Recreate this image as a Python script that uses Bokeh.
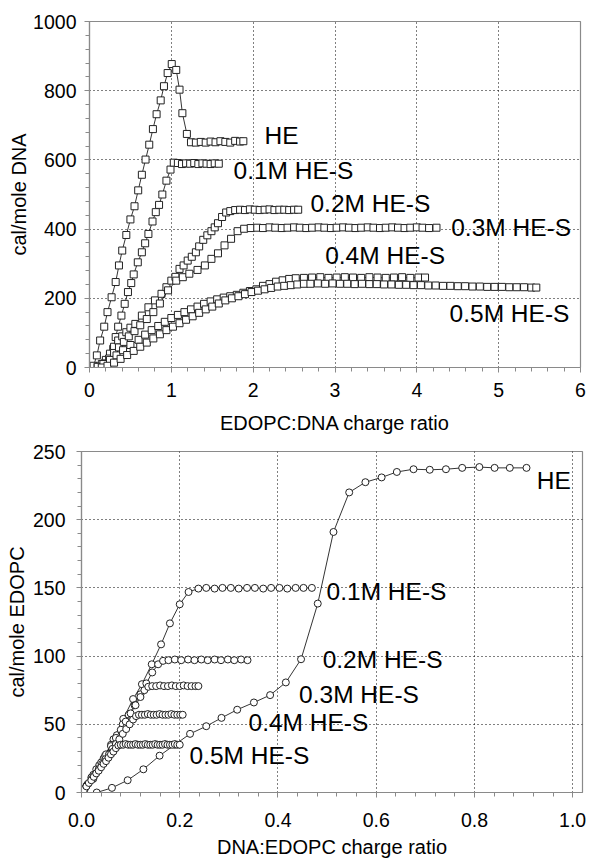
from bokeh.plotting import figure
from bokeh.models import Range1d, Label, SingleIntervalTicker, PrintfTickFormatter, Spacer
from bokeh.layouts import column, row
from bokeh.embed import file_html
from bokeh.resources import INLINE

FONT = "Liberation Sans"

# ---------------- top panel data: cal/mole DNA vs EDOPC:DNA charge ratio ----------------
top_he_x = [0.05,0.09,0.13,0.18,0.22,0.27,0.32,0.36,0.40,0.45,0.50,0.55,0.595,0.64,0.685,0.73,0.775,0.82,0.87,0.91,0.955,1.005,1.06,1.10,1.135,1.19,1.24,1.30,1.36,1.42,1.48,1.54,1.60,1.66,1.72,1.78,1.84,1.88]
top_he_y = [5,35,78,118,160,203,247,295,338,383,428,466,512,557,601,644,689,732,772,813,851,877,860,803,735,675,651,650,652,650,653,651,654,652,650,655,653,654]

top_01_x = [0.15,0.20,0.25,0.29,0.32,0.35,0.39,0.43,0.47,0.51,0.54,0.59,0.64,0.68,0.72,0.77,0.81,0.85,0.89,0.94,0.99,1.03,1.08,1.13,1.18,1.23,1.28,1.33,1.38,1.43,1.48,1.53,1.58]
top_01_y = [3,15,30,54,88,118,150,184,218,244,269,304,333,359,386,422,449,470,500,540,572,592,591,588,590,589,591,588,590,589,588,590,589]

top_02_x = [0.10,0.15,0.20,0.25,0.30,0.35,0.40,0.45,0.50,0.56,0.64,0.72,0.80,0.88,0.94,1.00,1.05,1.10,1.15,1.20,1.25,1.30,1.34,1.39,1.44,1.49,1.53,1.57,1.62,1.67,1.72,1.78,1.84,1.90,1.96,2.02,2.08,2.14,2.20,2.26,2.32,2.38,2.44,2.50,2.55]
top_02_y = [2,10,22,40,60,78,90,102,115,126,150,174,194,213,232,251,262,285,295,309,320,333,350,369,382,394,405,417,435,448,452,455,456,455,457,456,455,456,457,455,456,456,455,456,456]

top_03_x = [0.12,0.18,0.24,0.30,0.36,0.42,0.48,0.55,0.62,0.70,0.78,0.86,0.96,1.06,1.14,1.22,1.32,1.41,1.49,1.57,1.65,1.73,1.81,1.89,1.97,
            2.05,2.12,2.20,2.27,2.35,2.42,2.50,2.57,2.65,2.72,2.80,2.87,2.95,3.02,3.10,3.17,3.25,3.32,3.40,3.47,3.55,3.62,3.70,3.77,3.85,3.92,4.00,4.07,4.15,4.24]
top_03_y = [2,12,26,42,58,74,90,105,122,140,160,185,223,251,261,271,282,295,314,330,353,372,394,401,403,
            404,403,405,404,403,404,405,404,403,404,405,404,403,404,405,404,403,404,405,404,403,404,405,404,403,404,405,404,403,404]

top_04_x = [0.10,0.17,0.25,0.33,0.41,0.50,0.60,0.68,0.76,0.84,0.92,1.00,1.08,1.16,1.24,1.32,1.40,1.48,1.56,1.64,1.72,1.80,1.88,1.96,2.04,2.12,2.20,2.28,2.36,2.44,2.52,2.62,2.72,2.82,2.92,3.02,3.12,3.22,3.32,3.42,3.52,3.62,3.72,3.82,3.92,4.02,4.10]
top_04_y = [2,10,22,35,50,65,80,95,108,120,132,143,152,160,168,176,184,191,197,202,206,210,216,221,226,236,241,248,252,256,258,259,260,261,259,260,261,260,259,261,260,259,260,261,259,260,260]

top_05_x = [0.15,0.22,0.30,0.38,0.46,0.54,0.62,0.70,0.78,0.86,0.94,1.02,1.10,1.18,1.26,1.34,1.42,1.50,1.58,1.66,1.74,1.82,1.90,1.98,2.06,2.14,2.22,2.30,2.38,2.46,2.54,2.62,2.70,
            2.79,2.88,2.97,3.06,3.15,3.24,3.33,3.42,3.51,3.60,3.69,3.78,3.87,3.96,4.05,4.14,4.23,4.32,4.41,4.50,4.59,4.68,4.77,4.86,4.95,5.04,5.13,5.22,5.31,5.40,5.46]
top_05_y = [0,5,14,25,36,48,60,72,84,96,108,118,128,138,148,158,168,176,185,194,200,206,212,218,222,226,230,234,236,238,240,242,242,
            243,242,243,242,242,241,242,241,241,240,240,239,239,238,238,237,237,236,236,235,235,234,234,233,233,233,232,232,232,231,231]

top_labels = ["HE", "0.1M HE-S", "0.2M HE-S", "0.3M HE-S", "0.4M HE-S", "0.5M HE-S"]
top_label_x = [2.14, 1.76, 2.70, 4.42, 2.88, 4.40]
top_label_y = [670, 569, 474, 405, 324, 156]

# ---------------- bottom panel data: cal/mole EDOPC vs DNA:EDOPC charge ratio ----------------
bot_he_x = [0.031,0.062,0.094,0.126,0.159,0.19,0.221,0.254,0.285,0.317,0.351,0.384,0.416,0.447,0.481,0.513,0.545,0.578,0.611,0.642,0.676,0.709,0.742,0.775,0.81,0.841,0.872,0.906]
bot_he_y = [0,3.4,9,17,27,35,43,48.6,54.7,60.7,66,71.4,80.7,97.7,138.5,191,220,227.5,231,235,237,236.6,237,238,238.6,238,238,238]

bot_01_x = [0.005,0.024,0.045,0.065,0.085,0.105,0.123,0.143,0.162,0.180,0.200,0.218,0.238,0.254,0.271,0.287,0.304,0.320,0.337,0.353,0.370,0.386,0.403,0.419,0.436,0.452,0.469]
bot_01_y = [0.5,10,25,39,54,68.5,79.4,94,108.6,124,138,147,149.5,150,149.5,150,150,149.5,150,150,149.5,150,150,149.5,150,150,150]

bot_02_x = [0.0,0.012,0.024,0.036,0.048,0.06,0.072,0.084,0.096,0.108,0.12,0.132,0.144,0.156,0.166,0.177,0.19,0.203,0.217,0.23,0.244,0.257,0.271,0.284,0.298,0.311,0.325,0.338]
bot_02_y = [0,6,13,20,27,35,42,50,57,64,72,80,88,94,96.5,97,97.5,97,97.5,97,97.5,97,97.5,97,97.5,97,97.5,97]

bot_03_x = [0.0,0.01,0.02,0.03,0.04,0.05,0.06,0.07,0.08,0.09,0.10,0.11,0.12,0.128,0.136,0.144,0.152,0.16,0.168,0.176,0.184,0.192,0.2,0.208,0.216,0.224,0.232,0.238]
bot_03_y = [0,5,11,17,22,28,34,40,46,52,58,64,70,75,77.5,78,78,78.5,78,78,78.5,78,78,78.5,78,78,78,78]

bot_04_x = [0.0,0.007,0.014,0.021,0.028,0.035,0.042,0.049,0.056,0.063,0.07,0.077,0.084,0.091,0.098,0.105,
            0.111,0.117,0.123,0.129,0.135,0.141,0.147,0.153,0.159,0.165,0.171,0.177,0.183,0.189,0.195,0.201,0.206]
bot_04_y = [0,3,6.5,10,13.5,17,21,24.5,28,32,35.5,39,43,46.5,50,53.5,
            56,57,57,57,57.5,57,57,57,57.5,57,57,57,57.5,57,57,57,57]

bot_05_x = [0.0,0.005,0.01,0.015,0.02,0.025,0.03,0.035,0.04,0.045,0.05,0.055,0.06,0.065,0.07,
            0.075,0.08,0.085,0.09,0.095,0.10,0.105,0.11,0.115,0.12,0.125,0.13,0.135,0.14,0.145,0.15,0.155,0.16,0.165,0.17,0.175,0.18,0.185,0.19,0.195,0.20]
bot_05_y = [0,2,4.5,7,9,11.5,14,16,18.5,21,23,25.5,28,30,32.5,
            34.5,35,35,35.5,35,35,35,35.5,35,35,35,35.5,35,35,35,35.5,35,35,35,35.5,35,35,35,35.5,35,35]

bot_labels = ["HE", "0.1M HE-S", "0.2M HE-S", "0.3M HE-S", "0.4M HE-S", "0.5M HE-S"]
bot_label_x = [0.927, 0.499, 0.491, 0.443, 0.340, 0.220]
bot_label_y = [229, 147.5, 97.7, 72.2, 51, 27.2]


def style(p, xint, yint, xfmt=None):
    p.outline_line_color = "#8a8a8a"
    p.outline_line_width = 1.2
    p.background_fill_color = "white"
    p.border_fill_color = "white"
    p.xaxis[0].ticker = SingleIntervalTicker(interval=xint, num_minor_ticks=5)
    p.yaxis[0].ticker = SingleIntervalTicker(interval=yint, num_minor_ticks=5)
    if xfmt:
        p.xaxis[0].formatter = PrintfTickFormatter(format=xfmt)
    for ax in (p.xaxis[0], p.yaxis[0]):
        ax.axis_line_color = "#8a8a8a"
        ax.axis_line_width = 1.2
        ax.major_tick_line_color = "#8a8a8a"
        ax.minor_tick_line_color = "#8a8a8a"
        ax.major_tick_in = 0
        ax.major_tick_out = 5
        ax.minor_tick_in = 0
        ax.minor_tick_out = 4
        ax.major_label_text_font = FONT
        ax.major_label_text_font_size = "19.5px"
        ax.major_label_text_color = "black"
        ax.axis_label_text_font = FONT
        ax.axis_label_text_font_size = "20px"
        ax.axis_label_text_font_style = "normal"
        ax.axis_label_text_color = "black"
    for g in (p.xgrid[0], p.ygrid[0]):
        g.grid_line_color = "black"
        g.grid_line_dash = "1 3"
        g.grid_line_width = 1


def series(p, xs, ys, marker):
    p.line(xs, ys, line_color="black", line_width=0.8)
    p.scatter(xs, ys, marker=marker, size=7, fill_color="white", line_color="#222222", line_width=1)


# ---------------- top figure (shifted right by a spacer so both panels share an 81px left border) ----------------
top = figure(width=584, height=440, output_backend="svg", toolbar_location=None,
             x_range=Range1d(0, 6), y_range=Range1d(0, 1000),
             min_border_left=81, min_border_right=9, min_border_top=21, min_border_bottom=73,
             x_axis_label="EDOPC:DNA charge ratio", y_axis_label="cal/mole DNA")
style(top, 1, 200)
top.xaxis[0].major_label_standoff = 10
top.yaxis[0].major_label_standoff = 8
top.yaxis[0].axis_label_standoff = 0
top.xaxis[0].axis_label_standoff = 12

for xs, ys in [(top_he_x, top_he_y), (top_01_x, top_01_y), (top_02_x, top_02_y),
               (top_03_x, top_03_y), (top_04_x, top_04_y), (top_05_x, top_05_y)]:
    series(top, xs, ys, "square")

for t, lx, ly in zip(top_labels, top_label_x, top_label_y):
    top.add_layout(Label(x=lx, y=ly, text=t, text_font=FONT, text_font_size="24.5px",
                         text_baseline="middle", text_align="left", text_color="black"))

# ---------------- bottom figure ----------------
bot = figure(width=589, height=420, output_backend="svg", toolbar_location=None,
             x_range=Range1d(0, 1.02), y_range=Range1d(0, 250),
             min_border_left=81, min_border_right=7, min_border_top=11, min_border_bottom=66,
             x_axis_label="DNA:EDOPC charge ratio", y_axis_label="cal/mole EDOPC")
style(bot, 0.2, 50, "%.1f")
bot.xaxis[0].major_label_standoff = 15
bot.yaxis[0].major_label_standoff = 11
bot.yaxis[0].axis_label_standoff = 2
bot.xaxis[0].axis_label_standoff = 6

for xs, ys in [(bot_he_x, bot_he_y), (bot_01_x, bot_01_y), (bot_02_x, bot_02_y),
               (bot_03_x, bot_03_y), (bot_04_x, bot_04_y), (bot_05_x, bot_05_y)]:
    series(bot, xs, ys, "circle")

for t, lx, ly in zip(bot_labels, bot_label_x, bot_label_y):
    bot.add_layout(Label(x=lx, y=ly, text=t, text_font=FONT, text_font_size="24.5px",
                         text_baseline="middle", text_align="left", text_color="black"))

layout = column(row(Spacer(width=5, height=440), top, spacing=0), bot, spacing=0)
open("out.html", "w").write(file_html(layout, INLINE))
